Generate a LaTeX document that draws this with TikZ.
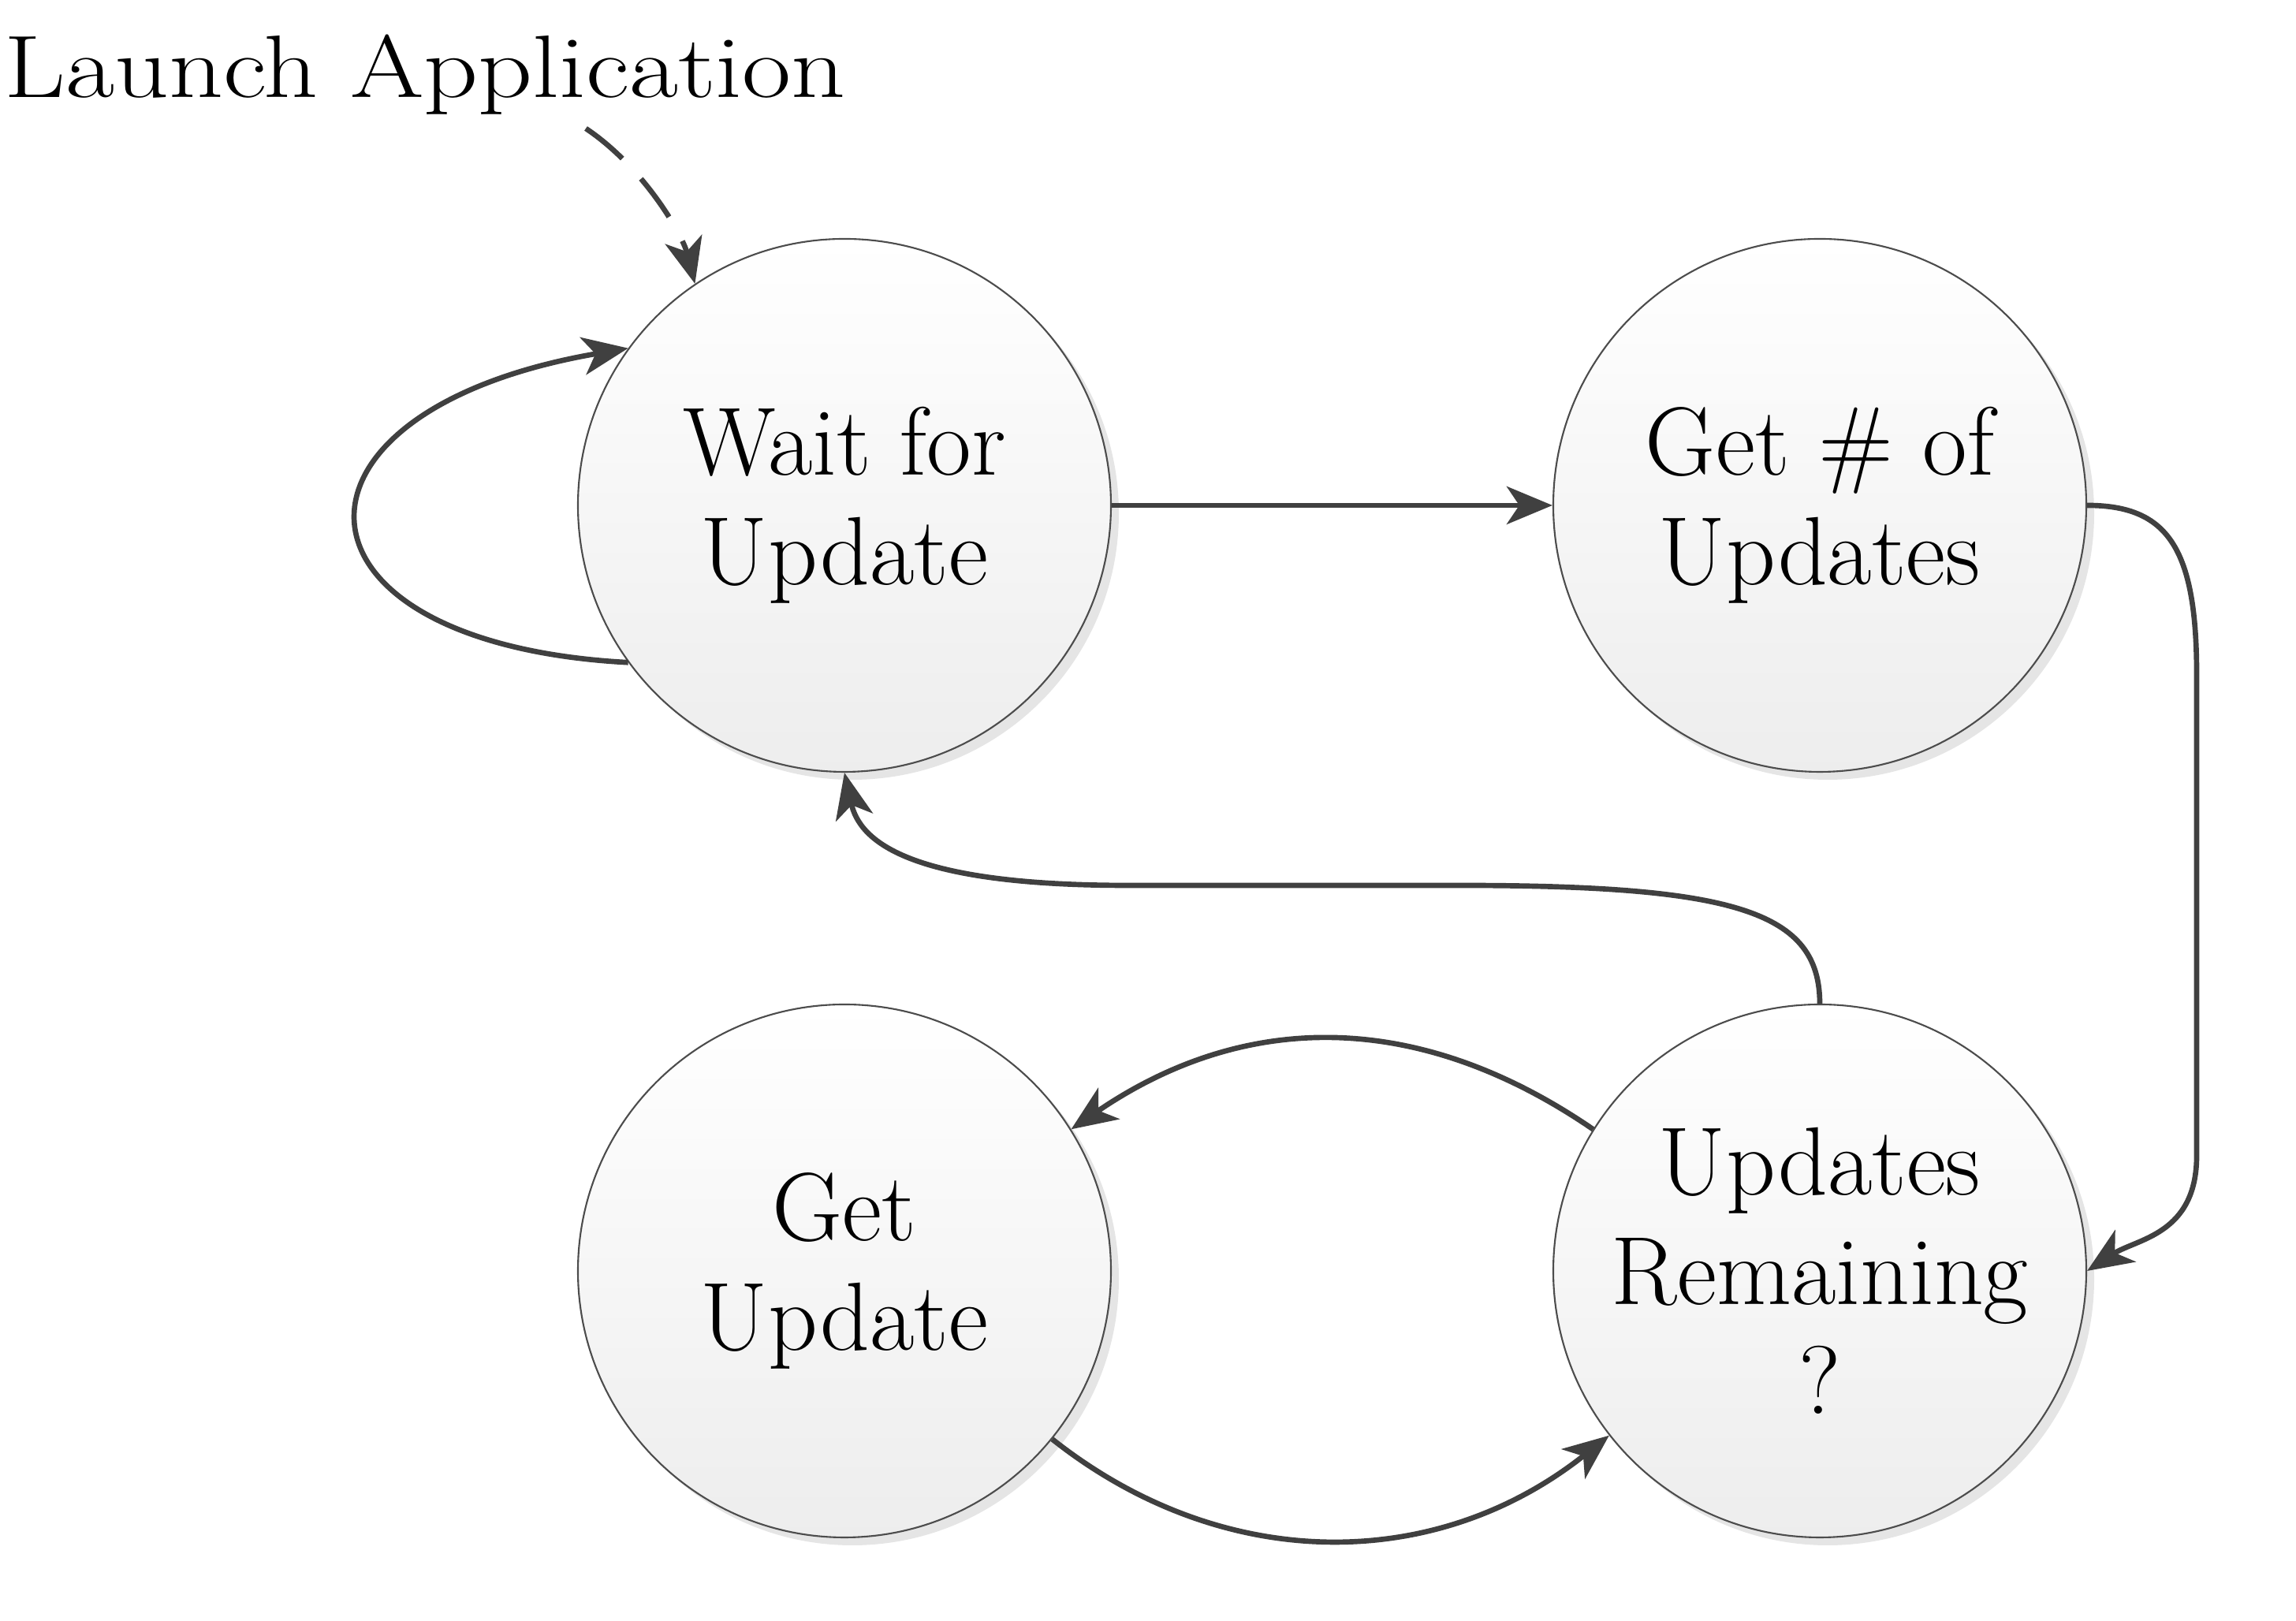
\documentclass[tikz,border=0pt]{standalone}
\usetikzlibrary{arrows.meta, shadows, positioning}
\begin{document}
\begin{tikzpicture}[
    state/.style = {circle, draw=black!70, line width=0.6pt, minimum size=6.76cm,
        inner sep=0pt, align=center, top color=white, bottom color=black!7,
        drop shadow={shadow xshift=0.1cm, shadow yshift=-0.1cm, fill=black!10, opacity=1},
        font=\fontsize{35}{39.5}\selectfont},
    flow/.style = {draw=black!75, line width=1.9pt,
        -{Stealth[length=0.58cm, width=0.48cm, inset=0.16cm]}},
]
    \useasboundingbox (0,0) rectangle (29.12,20.56);

    \node[anchor=base west, inner sep=0pt, xscale=1.2,
          font=\fontsize{32}{36}\selectfont] (launch) at (0.05,19.32) {Launch Application};
    \coordinate (start) at (7.43,18.93);

    \node[state] (wait)   at (10.71,14.15) {Wait for\\Update};
    \node[state] (count)  at (23.08,14.15) {Get \# of\\Updates};
    \node[state] (fetch)  at (10.71,4.44)  {Get\\Update};
    \node[state] (remain) at (23.08,4.44)  {Updates\\Remaining\\?};

    \draw[flow, dash pattern=on 0.6cm off 0.35cm]
        (start) .. controls (8.15,18.45) and (8.65,17.6) .. (wait.124);
    \draw[flow] (wait.-144) .. controls (3.45,12.4) and (3.35,15.35) .. (wait.144);
    \draw[flow] (wait.east) -- (count.west);
    \draw[flow] (count.east) .. controls (27.5,14.15) and (27.86,13.6) .. (27.86,12.0)
        -- (27.86,5.9) .. controls (27.86,4.9) and (27.1,4.85) .. (remain.east);
    \draw[flow] (remain.north) .. controls (23.08,9.0) and (22,9.33) .. (18.5,9.33)
        -- (14.3,9.33) .. controls (11.5,9.33) and (10.9,9.9) .. (wait.south);
    \draw[flow] (remain.148) .. controls (18.0,7.75) and (15.8,7.75) .. (fetch.32);
    \draw[flow] (fetch.-39) .. controls (15.5,0.6) and (18.2,0.6) .. (remain.-142);

\end{tikzpicture}
\end{document}
